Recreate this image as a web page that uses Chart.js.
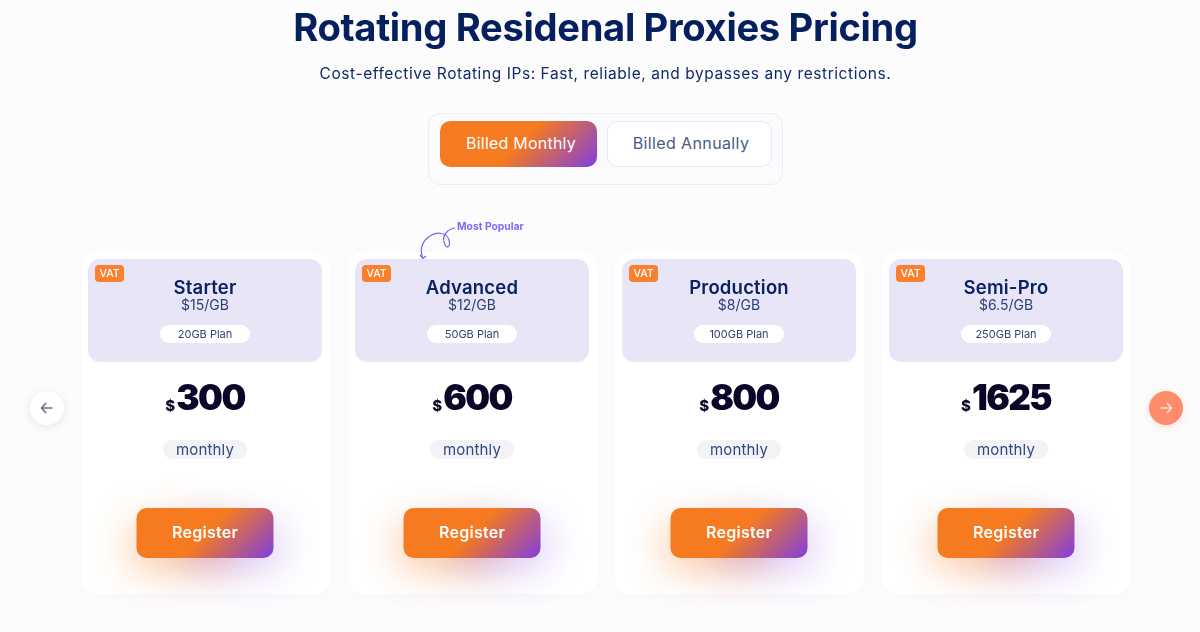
<!DOCTYPE html>
<html><head><meta charset="utf-8">
<script src="https://cdn.jsdelivr.net/npm/chart.js@4"></script>
<style>
html,body{margin:0;padding:0;width:1200px;height:632px;overflow:hidden;background:#fcfcfd;font-family:Inter,sans-serif}
#wrap{position:relative;width:1200px;height:632px}
canvas{position:absolute;left:0;top:0}
.abs{position:absolute;white-space:nowrap}
h1{margin:0;left:0;width:1211px;text-align:center;top:2px;font-size:38.2px;line-height:50px;font-weight:650;color:#06205f;letter-spacing:-.34px}
#sub{left:0;width:1211px;text-align:center;top:63px;font-size:15.5px;line-height:22px;color:#12296b;letter-spacing:.57px}
#toggle{left:428px;top:113px;width:353px;height:70px;border:1px solid #ebebf1;border-radius:12px;background:#fbfbfd}
.tb{top:121px;height:46px;line-height:45px;text-align:center;font-size:16px;border-radius:10px;box-sizing:border-box}
#bm{left:440px;width:157px;padding-left:5px;color:#fff;letter-spacing:.22px;background:linear-gradient(135deg,#f67a20 50%,#7f3fe0 100%)}
#ba{left:607px;width:165px;padding-left:3px;background:#fff;border:1px solid #e6e6f4;line-height:43px;color:#4a5a85;letter-spacing:.38px}
</style></head><body>
<div id="wrap">
<canvas id="c" width="1200" height="632"></canvas>
<h1 class="abs">Rotating Residenal Proxies Pricing</h1>
<div id="sub" class="abs">Cost-effective Rotating IPs: Fast, reliable, and bypasses any restrictions.</div>
<div id="toggle" class="abs"></div>
<div id="bm" class="abs tb">Billed Monthly</div>
<div id="ba" class="abs tb">Billed Annually</div>
</div>
<script>
const planNames=['Starter','Advanced','Production','Semi-Pro'];
const prices=[300,600,800,1625];
const rates=['$15/GB','$12/GB','$8/GB','$6.5/GB'];
const planSizes=['20GB Plan','50GB Plan','100GB Plan','250GB Plan'];
const billingPeriod='monthly';
const ctaLabel='Register';
const badgeLabel='VAT';
const popularLabel='Most Popular';
const popularIndex=1;

const FONT='Inter, sans-serif';
function rr(ctx,x,y,w,h,r){ctx.beginPath();ctx.roundRect(x,y,w,h,r);}
function grad(ctx,x,y,w,h,stops){
  const a=Math.PI/4,len=(w+h)*Math.sin(a),cx=x+w/2,cy=y+h/2,dx=Math.cos(a)*len/2,dy=Math.sin(a)*len/2;
  const g=ctx.createLinearGradient(cx-dx,cy-dy,cx+dx,cy+dy);
  stops.forEach(s=>g.addColorStop(s[0],s[1]));return g;
}
function txt(ctx,s,x,y,font,color,align,ls){
  ctx.font=font;ctx.fillStyle=color;ctx.textAlign=align||'center';ctx.textBaseline='middle';
  ctx.letterSpacing=(ls||0)+'px';ctx.fillText(s,x,y);ctx.letterSpacing='0px';
}
const cardsPlugin={
  id:'cards',
  beforeDatasetsDraw(chart){
    const ctx=chart.ctx,xs=chart.scales.x;
    ctx.save();
    planNames.forEach((name,i)=>{
      const cx=xs.getPixelForValue(i);
      const L=cx-124;
      // card
      ctx.shadowColor='rgba(120,110,180,.03)';ctx.shadowBlur=14;ctx.shadowOffsetY=2;
      ctx.fillStyle='#fff';rr(ctx,L,252,249,342,16);ctx.fill();
      ctx.shadowColor='transparent';ctx.shadowBlur=0;ctx.shadowOffsetY=0;
      // header panel
      ctx.fillStyle='#e8e5f7';rr(ctx,L+7,259,234,103,12);ctx.fill();
      // VAT badge
      ctx.fillStyle='#f9802f';rr(ctx,L+14,265,29,17,4);ctx.fill();
      txt(ctx,badgeLabel,L+28.5,273.5,'500 10.5px '+FONT,'#fff');
      txt(ctx,name,cx,288.5,'600 18.5px '+FONT,'#0b2265','center',.2);
      txt(ctx,rates[i],cx,305.5,'400 14px '+FONT,'#2b3f78');
      ctx.fillStyle='#fff';rr(ctx,cx-45,325,90,18,9);ctx.fill();
      txt(ctx,planSizes[i],cx,334.5,'400 11px '+FONT,'#33446f');
      // price
      const p=String(chart.data.datasets[0].data[i]);
      const pf='900 35px '+FONT,pls=-1.6;
      ctx.font=pf;ctx.letterSpacing=pls+'px';const pw=ctx.measureText(p).width;ctx.letterSpacing='0px';
      const total=pw+11,start=cx-total/2;
      txt(ctx,'$',start,406,'800 15px '+FONT,'#0b0527','left');
      txt(ctx,p,start+11,399,pf,'#0b0527','left',pls);
      // period pill
      ctx.fillStyle='#f3f3f7';rr(ctx,cx-42,440,84,19,9.5);ctx.fill();
      txt(ctx,billingPeriod,cx,450,'400 15px '+FONT,'#2f4a80','center',.15);
      // register button with glow
      const bx=cx-68.5,by=508,bw=137,bh=50;
      ctx.save();
      ctx.shadowBlur=40;ctx.shadowOffsetY=12;
      ctx.shadowOffsetX=-10;ctx.shadowColor='rgba(249,122,31,.45)';
      ctx.fillStyle='#f67a20';rr(ctx,bx+6,by+4,bw-40,bh-6,10);ctx.fill();
      ctx.shadowOffsetX=12;ctx.shadowColor='rgba(127,63,224,.3)';
      ctx.fillStyle='#7f3fe0';rr(ctx,bx+40,by+4,bw-46,bh-6,10);ctx.fill();
      ctx.restore();
      ctx.fillStyle=grad(ctx,bx,by,bw,bh,[[0,'#f67a20'],[.5,'#f67a20'],[1,'#7f3fe0']]);
      rr(ctx,bx,by,bw,bh,10);ctx.fill();
      txt(ctx,ctaLabel,cx,533,'600 16px '+FONT,'#fff','center',.25);
      // Most popular note
      if(i===popularIndex){
        txt(ctx,popularLabel,cx-15,227,'700 10.3px '+FONT,'#7a6cf5','left');
        ctx.strokeStyle='#6f68f0';ctx.lineWidth=1.2;
        ctx.beginPath();
        ctx.moveTo(cx-17,228);
        ctx.bezierCurveTo(cx-24,229,cx-30,235,cx-28,242);
        ctx.bezierCurveTo(cx-26,250,cx-21,247,cx-23,240);
        ctx.bezierCurveTo(cx-25,233,cx-35,231,cx-42,236);
        ctx.bezierCurveTo(cx-50,241,cx-53,250,cx-49,258);
        ctx.stroke();
        ctx.beginPath();ctx.moveTo(cx-52,255);ctx.lineTo(cx-49,258.5);ctx.lineTo(cx-46,256);ctx.stroke();
      }
    });
    // carousel arrows, placed relative to the outer categories
    const lx=xs.getPixelForValue(0)-158,rx=xs.getPixelForValue(3)+160,ay=408;
    ctx.save();
    ctx.shadowColor='rgba(90,90,140,.14)';ctx.shadowBlur=10;ctx.shadowOffsetY=2;
    ctx.fillStyle='#fff';ctx.beginPath();ctx.arc(lx,ay,17,0,7);ctx.fill();
    ctx.shadowColor='rgba(255,120,80,.2)';
    const g=ctx.createLinearGradient(rx,ay-17,rx,ay+17);g.addColorStop(0,'#fb8f65');g.addColorStop(1,'#ff8a70');
    ctx.fillStyle=g;ctx.beginPath();ctx.arc(rx,ay,17,0,7);ctx.fill();
    ctx.restore();
    const arrow=(x,d,col)=>{ctx.strokeStyle=col;ctx.lineWidth=1.6;ctx.beginPath();ctx.moveTo(x-d*5.5,ay);ctx.lineTo(x+d*5.5,ay);
      ctx.moveTo(x+d*1,ay-5);ctx.lineTo(x+d*5.5,ay);ctx.lineTo(x+d*1,ay+5);ctx.stroke();};
    arrow(lx,-1,'#6f6f8c');arrow(rx,1,'#ffe6d8');
    ctx.restore();
  }
};
new Chart(document.getElementById('c'),{
  type:'bar',
  data:{labels:planNames,datasets:[{label:'Monthly price',data:prices,backgroundColor:'rgba(0,0,0,0)',borderWidth:0}]},
  options:{
    responsive:false,animation:false,devicePixelRatio:1,
    layout:{padding:{left:71.5,right:60.5,top:0,bottom:0}},
    plugins:{legend:{display:false},tooltip:{enabled:false},title:{display:false}},
    scales:{x:{type:'category',display:false},y:{type:'linear',display:false,beginAtZero:true}}
  },
  plugins:[cardsPlugin]
});
</script>
</body></html>
